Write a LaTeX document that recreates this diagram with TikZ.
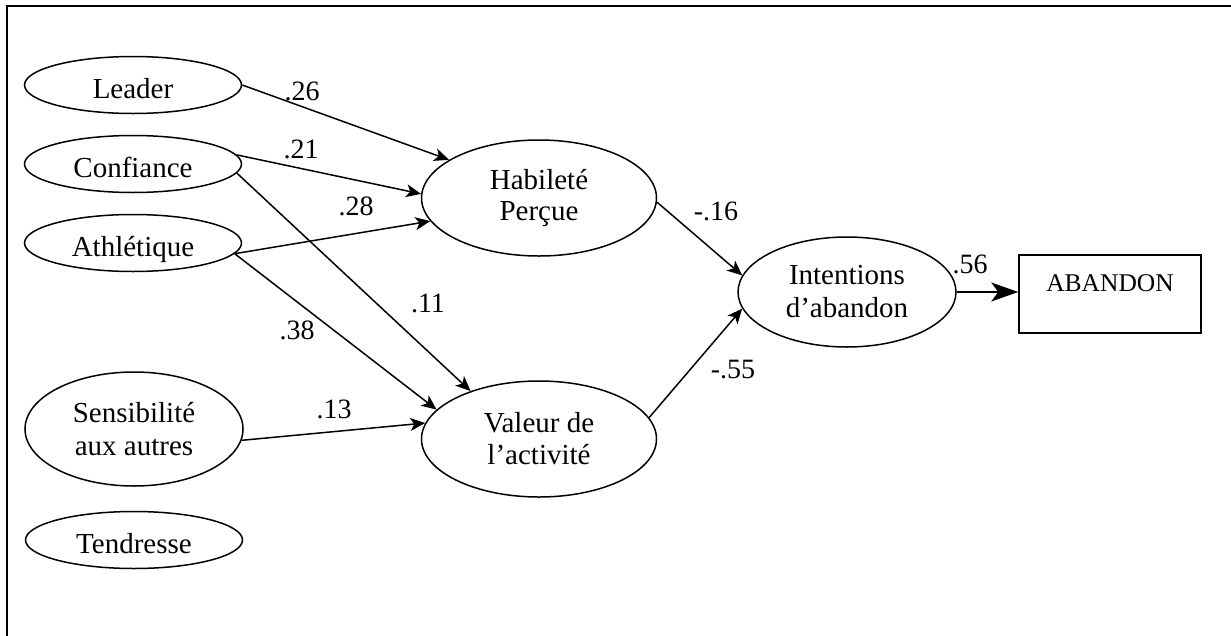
\documentclass[tikz,border=0pt]{standalone}
\usepackage{fontspec}
\setmainfont{Liberation Serif}
\usetikzlibrary{shapes.geometric,arrows.meta}

\begin{document}
\begin{tikzpicture}[x=1pt,y=-1pt,
  oval/.style={draw, ellipse, line width=1.5pt, inner sep=0pt},
  oneline/.style={oval, minimum width=217pt, minimum height=57pt,
    font=\fontsize{29}{33}\selectfont, text height=26pt, text depth=0pt},
  twoline/.style={oval, font=\fontsize{29}{33}\selectfont, align=center},
  arr/.style={line width=1.5pt, -{Stealth[length=15pt,width=13pt,inset=4pt]}},
  bigarr/.style={line width=1.5pt, -{Stealth[length=27pt,width=19pt,inset=7pt]}},
  lab/.style={anchor=base, inner sep=0pt, font=\fontsize{28}{30}\selectfont}
]
\useasboundingbox (0,0) rectangle (1231,635);
\clip (0,0) rectangle (1231,635);

% outer frame (runs past the right and bottom edges)
\draw[line width=2pt] (7,6) rectangle (1260,660);

% exogenous variables
\node[oneline] (leader) at (133,85)  {Leader};
\node[oneline] (conf)   at (133,164) {Confiance};
\node[oneline] (athl)   at (133,243) {Athlétique};
\node[twoline, minimum width=218pt, minimum height=114pt] (sens) at (134,429) {Sensibilité\\aux autres};
\node[oneline] (tend)   at (134,540) {Tendresse};

% mediators
\node[twoline, minimum width=235pt, minimum height=116pt, font=\fontsize{29}{32}\selectfont] (hab) at (539,198) {Habileté\\Perçue};
\node[twoline, minimum width=235pt, minimum height=116pt, font=\fontsize{29}{32}\selectfont] (val) at (539,439) {Valeur de\\l’activité};

% outcome
\node[twoline, minimum width=218pt, minimum height=110pt] (int) at (847,292) {Intentions\\d’abandon};
\node[draw, line width=1.5pt, rectangle, minimum width=182pt, minimum height=78pt, inner sep=0pt,
      font=\fontsize{25.5}{30}\selectfont, text height=18pt, text depth=24pt] (aband) at (1110,294) {ABANDON};

% paths
\draw[arr] (leader.east) -- (hab.157);
\draw[arr] (conf.5)      -- (hab.178);
\draw[arr] (athl.-6)     -- (hab.-168);
\draw[arr] (conf.-5)     -- (val.145);
\draw[arr] (athl.-6)     -- (val.164);
\draw[arr] (sens.-6)     -- (val.172);
\draw[arr] (hab.-2)      -- (int.171);
\draw[arr] (val.11)      -- (int.-171);
\draw[bigarr] (int.east) -- (int.east -| aband.west);

% path coefficients
\node[lab] (c26) at (302,100) {.26};
\node[lab] (c21) at (301,158) {.21};
\node[lab] (c28) at (356,215) {.28};
\node[lab] (c11) at (428,312) {.11};
\node[lab] (c38) at (297,339) {.38};
\node[lab] (c13) at (334,418) {.13};
\node[lab] (c16) at (716,220) {-.16};
\node[lab] (c55) at (733,378) {-.55};
\node[lab] (c56) at (970,273) {.56};
\end{tikzpicture}
\end{document}
